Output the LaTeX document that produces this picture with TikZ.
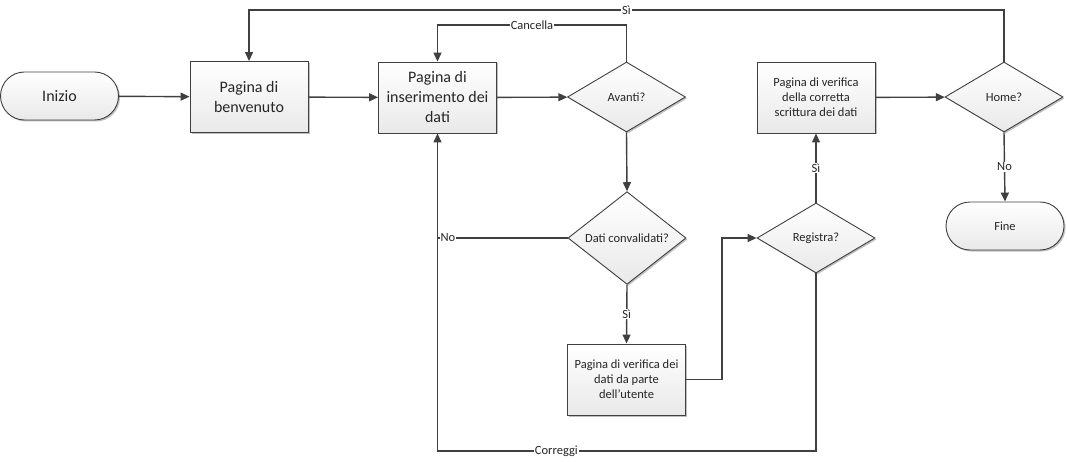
\documentclass[tikz,border=0pt]{standalone}
\usepackage{fontspec}
\setmainfont{Carlito}
\usetikzlibrary{arrows.meta,shapes.geometric,shadows}

\definecolor{ink}{HTML}{404040}
\definecolor{shadeend}{HTML}{E9E9E9}

\begin{document}
\begin{tikzpicture}[x=1pt,y=-1pt,
  base/.style={draw=ink, line width=0.9pt, top color=white, bottom color=shadeend,
    align=center, inner sep=2pt, text=black!85,
    drop shadow={shadow xshift=1.5pt,shadow yshift=-1.5pt,opacity=0.25,fill=black}},
  bigtext/.style={font=\fontsize{16}{20}\selectfont},
  smalltext/.style={font=\fontsize{12.5}{15}\selectfont},
  procbox/.style={base, rectangle, minimum width=118pt, minimum height=71pt},
  terminal/.style={base, rectangle, rounded corners=24pt, minimum width=118pt, minimum height=48pt},
  decision/.style={base, diamond, minimum width=118pt, minimum height=70pt, inner sep=0pt, smalltext},
  flow/.style={draw=ink, line width=1.4pt, -{Triangle[length=9pt,width=8pt]}},
  plain/.style={draw=ink, line width=1.4pt},
  lbl/.style={fill=white, inner sep=1pt, text=black!85, font=\fontsize{12.5}{14}\selectfont}
]
\useasboundingbox (0,0) rectangle (1067,462);

% nodes
\node[terminal, bigtext] (start) at (59.5,96) {Inizio};
\node[procbox, bigtext] (welcome) at (249,97) {Pagina di\\benvenuto};
\node[procbox, bigtext] (input) at (437.5,97.5) {Pagina di\\inserimento dei\\dati};
\node[decision] (next) at (626.5,97) {Avanti?};
\node[decision] (valid) at (627,238) {Dati convalidati?};
\node[procbox, smalltext] (review) at (626.5,379.5) {Pagina di verifica dei\\dati da parte\\dell’utente};
\node[decision] (save) at (816,238) {Registra?};
\node[procbox, smalltext] (check) at (816,97.5) {Pagina di verifica\\della corretta\\scrittura dei dati};
\node[decision] (home) at (1004,97) {Home?};
\node[terminal, smalltext] (stop) at (1005,226) {Fine};

% routing rows and columns
\coordinate (homerow) at (0,10);
\coordinate (cancelrow) at (0,25);
\coordinate (fixrow) at (0,451);
\coordinate (jog) at (722,0);

% connectors
\draw[flow] (start) -- (welcome);
\draw[flow] (welcome) -- (input);
\draw[flow] (input) -- (next);
\draw[flow] (next.north) -- (next.north |- cancelrow) -- node[lbl]{Cancella} (input.north |- cancelrow) -- (input.north);
\draw[flow] (home.north) -- (home.north |- homerow) -- node[lbl]{Sì} (welcome.north |- homerow) -- (welcome.north);
\draw[flow] (next.south) -- (valid.north);
\draw[plain] (valid.west) -- node[lbl, pos=0.92]{No} (input.south |- valid.west);
\draw[flow] (valid.south) -- node[lbl]{Sì} (review.north);
\draw[flow] (review.east) -- (jog |- review.east) -- (jog |- save.west) -- (save.west);
\draw[flow] (save.north) -- node[lbl]{Sì} (check.south);
\draw[flow] (check) -- (home);
\draw[flow] (home.south) -- node[lbl]{No} (stop.north);
\draw[flow] (save.south) -- (save.south |- fixrow) -- node[lbl, pos=0.686]{Correggi} (input.south |- fixrow) -- (input.south);
\end{tikzpicture}
\end{document}
